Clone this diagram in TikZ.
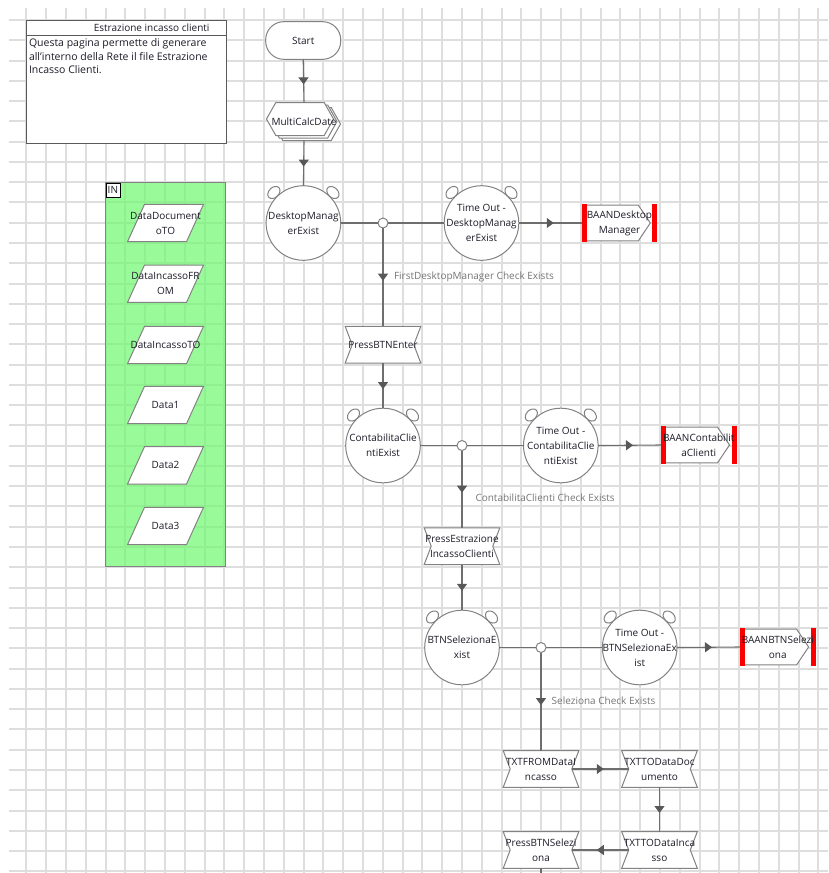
\documentclass[tikz,border=0pt]{standalone}
\usepackage{fontspec}
\setmainfont{Open Sans}
\usetikzlibrary{shapes.geometric,arrows.meta,decorations.markings}
\pgfdeclarelayer{gridlayer}
\pgfdeclarelayer{shapelayer}
\pgfsetlayers{gridlayer,shapelayer,main}

\definecolor{gridc}{RGB}{222,222,222}
\definecolor{edgec}{RGB}{130,130,130}
\definecolor{linkc}{RGB}{110,110,110}
\definecolor{tipc}{RGB}{88,88,88}
\definecolor{txtc}{RGB}{28,28,40}
\definecolor{lblc}{RGB}{118,118,118}
\definecolor{panelc}{RGB}{111,248,111}
\definecolor{boxc}{RGB}{90,90,90}
\definecolor{baanred}{RGB}{250,0,0}

% outline of a box whose left and right sides are notched inwards
\newcommand\hourglassedge[1]{%
  \draw[edge] ([xshift=-7pt]#1.north west) -- ([xshift=7pt]#1.north east) -- (#1.east)
    -- ([xshift=7pt]#1.south east) -- ([xshift=-7pt]#1.south west) -- (#1.west) -- cycle;}
% slanted input box
\newcommand\paralleledge[1]{%
  \draw[edge] ([xshift=-8.5pt]#1.south west) -- ([xshift=-8.5pt]#1.south east)
    -- ([xshift=8.5pt]#1.north east) -- ([xshift=8.5pt]#1.north west) -- cycle;}
% pointed box between two red bars
\newcommand\baanedge[1]{%
  \draw[edge] ([xshift=2.5pt,yshift=-1pt]#1.north west) -- ([xshift=-19pt,yshift=-1pt]#1.north east)
    -- ([xshift=-7pt]#1.east) -- ([xshift=-19pt,yshift=1pt]#1.south east)
    -- ([xshift=2.5pt,yshift=1pt]#1.south west) -- cycle;
  \fill[baanred] (#1.north west) rectangle ([xshift=5pt]#1.south west);
  \fill[baanred] ([xshift=-5pt]#1.north east) rectangle (#1.south east);}
% the two bells on top of a wait circle
\newcommand\bellears[1]{%
  \path (#1.center) ++(-29.5,-30.5) node[ear,rotate=45]{};
  \path (#1.center) ++(29.5,-30.5) node[ear,rotate=-45]{};}
% one hexagon of the stacked sub-process symbol
\newcommand\hexone[2]{%
  \draw[edge] (#1,16.5+#2) -- (9.3+#1,#2) -- (57.7+#1,#2) -- (67+#1,16.5+#2)
    -- (57.7+#1,33+#2) -- (9.3+#1,33+#2) -- cycle;}

\tikzset{
  every node/.style={inner sep=0pt, outer sep=0pt, text=txtc, font=\fontsize{10}{15}\selectfont},
  gridline/.style={draw=gridc, line width=2pt},
  edge/.style={draw=edgec, line width=1pt, fill=white, line join=miter},
  link/.style={draw=linkc, line width=1.1pt},
  midarrow/.style={postaction={decorate}, decoration={markings,
      mark=at position 0.5 with {\arrow[xshift=3.5pt, tipc]{Triangle[length=7pt,width=10pt]}}}},
  txt/.style={label={[align=center]center:{#1}}},
  startbox/.style={rectangle, rounded corners=18pt, draw=edgec, line width=1pt, fill=white,
      minimum width=75pt, minimum height=37.6pt},
  wake/.style={circle, draw=edgec, line width=1pt, fill=white, minimum size=74.6pt},
  ear/.style={ellipse, draw=edgec, line width=1pt, fill=white, minimum width=14pt, minimum height=10pt},
  junction/.style={circle, draw=edgec, line width=1pt, fill=white, minimum size=10pt},
  hourglass/.style={minimum width=61.6pt, minimum height=36.6pt},
  datain/.style={minimum width=59pt, minimum height=37.4pt},
  baanbox/.style={minimum width=75.6pt, minimum height=37.7pt},
  chk/.style={anchor=west, text=lblc},
}

\begin{document}
\begin{tikzpicture}[x=1pt, y=-1pt]
\useasboundingbox (0,0) rectangle (828,873);

% background grid and input panel
\begin{pgfonlayer}{gridlayer}
  \fill[white] (0,0) rectangle (828,873);
  \foreach \i in {0,...,40} \draw[gridline] ({round(26.3+19.8*\i)},8) -- ({round(26.3+19.8*\i)},873);
  \foreach \j in {0,...,42} \draw[gridline] (9,{round(20+20.27*\j)}) -- (828,{round(20+20.27*\j)});
  \draw[draw=edgec, line width=1pt, fill=panelc, fill opacity=0.7] (105.7,182.7) rectangle (225.7,566.7);
\end{pgfonlayer}

% page description
\node[draw=boxc, line width=1pt, fill=white, minimum width=200pt, minimum height=123.3pt,
      anchor=north west] (desc) at (26.3,20) {};
\draw[boxc, line width=1pt] (26.3,35) -- (226.3,35);
\node[anchor=east] (desctitle) at (209.5,28) {Estrazione incasso clienti};
\node[anchor=north west, align=left, font=\fontsize{10.5}{13.7}\selectfont] (desctext) at (29,38.5)
  {Questa pagina permette di generare\\all'interno della Rete il file Estrazione\\Incasso Clienti.};

% input panel contents
\node[draw=black, line width=0.8pt, fill=white, minimum width=14pt, minimum height=14.5pt,
      anchor=north west, font=\fontsize{10}{11}\selectfont] (inlabel) at (105.9,182.9) {IN};
\node[datain, txt={DataDocument\\oTO}] (in1) at (165.5,223) {};
\node[datain, txt={DataIncassoFR\\OM}] (in2) at (165.5,283.7) {};
\node[datain, txt={DataIncassoTO}] (in3) at (165.5,345) {};
\node[datain, txt={Data1}] (in4) at (165.5,405) {};
\node[datain, txt={Data2}] (in5) at (165.5,465.3) {};
\node[datain, txt={Data3}] (in6) at (165.5,526) {};

% flow nodes
\node[startbox] (start) at (303.2,40.5) {Start};
\node[minimum width=75pt, minimum height=38pt, txt={MultiCalcDate}] (mcd) at (304,121.5) {};

\node[wake, txt={DesktopManag\\erExist}] (dme) at (303.4,223) {};
\node[junction] (j1) at (383,223) {};
\node[wake, txt={Time Out -\\DesktopManag\\erExist}] (to1) at (481.5,223) {};
\node[baanbox, txt={BAANDesktop\\Manager}] (baan1) at (619.5,223) {};

\node[hourglass, txt={PressBTNEnter}] (pbe) at (383,344.7) {};

\node[wake, txt={ContabilitaClie\\ntiExist}] (cce) at (383,445.5) {};
\node[junction] (j2) at (462,445.5) {};
\node[wake, txt={Time Out -\\ContabilitaClie\\ntiExist}] (to2) at (560.8,445.5) {};
\node[baanbox, txt={BAANContabilit\\aClienti}] (baan2) at (698.7,445) {};

\node[hourglass, txt={PressEstrazione\\IncassoClienti}] (pei) at (462,546.2) {};

\node[wake, txt={BTNSelezionaE\\xist}] (bse) at (462,647.5) {};
\node[junction] (j3) at (541,647.5) {};
\node[wake, txt={Time Out -\\BTNSelezionaEx\\ist}] (to3) at (639.7,647.5) {};
\node[baanbox, txt={BAANBTNSelezi\\ona}] (baan3) at (777.8,647) {};

\node[hourglass, txt={TXTFROMDataI\\ncasso}] (txf) at (541,769) {};
\node[hourglass, txt={TXTTODataDoc\\umento}] (txd) at (659.5,769) {};
\node[hourglass, txt={TXTTODataInca\\sso}] (txi) at (659.5,850) {};
\node[hourglass, txt={PressBTNSelezi\\ona}] (pbs) at (541,850) {};
\coordinate (tail) at (541,873);

% symbol outlines drawn under the texts
\begin{pgfonlayer}{shapelayer}
  \foreach \n in {in1,in2,in3,in4,in5,in6} {\paralleledge{\n}}
  \begin{scope}[shift={(mcd.north west)}]
    \hexone{7}{5}
    \hexone{3.5}{2.5}
    \hexone{0}{0}
  \end{scope}
  \foreach \n in {dme,to1,cce,to2,bse,to3} {\bellears{\n}}
  \foreach \n in {pbe,pei,txf,txd,txi,pbs} {\hourglassedge{\n}}
  \foreach \n in {baan1,baan2,baan3} {\baanedge{\n}}
\end{pgfonlayer}

% connectors
\draw[link, midarrow] (start.south) -- (mcd.north);
\draw[link, midarrow] (mcd.south) -- (dme.north);
\draw[link] (dme.east) -- (j1.west);
\draw[link] (j1.east) -- (to1.west);
\draw[link, midarrow] (to1.east) -- (baan1.west);
\draw[link, midarrow] (j1.south) -- (pbe.north)
  node[chk, pos=0.5, xshift=11pt] (chk1) {FirstDesktopManager Check Exists};
\draw[link, midarrow] (pbe.south) -- (cce.north);
\draw[link] (cce.east) -- (j2.west);
\draw[link] (j2.east) -- (to2.west);
\draw[link, midarrow] (to2.east) -- (baan2.west);
\draw[link, midarrow] (j2.south) -- (pei.north)
  node[chk, pos=0.5, xshift=13.5pt, yshift=-8.4pt] (chk2) {ContabilitaClienti Check Exists};
\draw[link, midarrow] (pei.south) -- (bse.north);
\draw[link] (bse.east) -- (j3.west);
\draw[link] (j3.east) -- (to3.west);
\draw[link, midarrow] (to3.east) -- (baan3.west);
\draw[link, midarrow] (j3.south) -- (txf.north)
  node[chk, pos=0.5, xshift=10.7pt, yshift=1pt] (chk3) {Seleziona Check Exists};
\draw[link, midarrow] (txf.east) -- (txd.west);
\draw[link, midarrow] (txd.south) -- (txi.north);
\draw[link, midarrow] (txi.west) -- (pbs.east);
\draw[link] (pbs.south) -- (tail);
\end{tikzpicture}
\end{document}
